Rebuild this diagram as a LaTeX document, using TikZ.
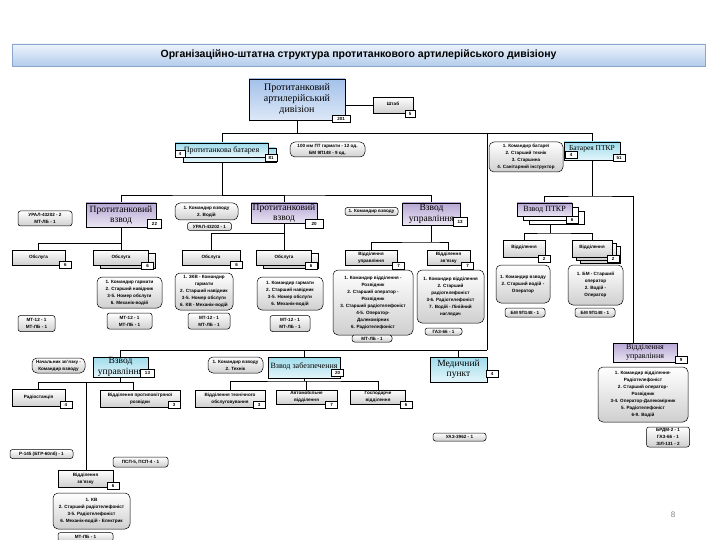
\documentclass[tikz,border=0pt]{standalone}
\usepackage{fontspec}
\setmainfont{Liberation Serif}
\setsansfont{Liberation Sans}
\usetikzlibrary{backgrounds}
\definecolor{gbot}{HTML}{CFCFCF}
\definecolor{ptop}{HTML}{B7A7D5}
\definecolor{pbot}{HTML}{EAE5F2}
\definecolor{ctop}{HTML}{9FDCEC}
\definecolor{cbot}{HTML}{E4F5FA}
\definecolor{btop}{HTML}{A3C1EA}
\definecolor{bbot}{HTML}{DDE8F7}
\definecolor{ttop}{HTML}{EEF4FC}
\definecolor{tbot}{HTML}{B3CCEB}
\definecolor{tbrd}{HTML}{8AA6C8}
\newcommand\sm{\fontsize{4.6}{7}\selectfont\sffamily\bfseries}
\newcommand\bdg{\fontsize{4.5}{5}\selectfont\sffamily\bfseries}
\newcommand\bigser{\fontsize{9.5}{10.5}\selectfont}
\newcommand\midser{\fontsize{8}{9}\selectfont}
\newcommand\smser{\fontsize{7.5}{8}\selectfont}
\newcommand\topser{\fontsize{10}{11}\selectfont}
\newcommand\ttl{\fontsize{10.5}{12}\selectfont\sffamily\bfseries}
\begin{document}
\begin{tikzpicture}[x=1pt,y=-1pt,
  wh/.style 2 args={minimum width=#1pt, minimum height=#2pt},
  box/.style={draw=black, line width=0.5pt, inner sep=0.5pt, align=center, font=\sm},
  gbox/.style={box, top color=white, bottom color=gbot},
  rbox/.style={gbox, rounded corners=5pt},
  vbox/.style={gbox, rounded corners=2.5pt},
  pbox/.style={box, top color=ptop, bottom color=pbot, font=\bigser},
  cbox/.style={box, top color=ctop, bottom color=cbot, font=\bigser},
  badge/.style={draw=black, fill=white, line width=0.5pt, font=\bdg, inner sep=0pt, minimum width=12pt, minimum height=7pt},
  wire/.style={draw=black, line width=0.8pt}]
\useasboundingbox (0,0) rectangle (720,540);

% title
\node[draw=tbrd, line width=0.5pt, top color=ttop, bottom color=tbot, wh={693}{22}, font=\ttl] (title) at (358.5,55) {Організаційно-штатна структура протитанкового артилерійського дивізіону};

% top
\node[box, top color=btop, bottom color=bbot, font=\topser, wh={96}{41}] (top) at (297,99.5) {Протитанковий\\артилерійський\\дивізіон};
\node[badge, minimum width=18pt] (b201) at (341,119) {201};
\node[gbox, wh={40}{16}] (shtab) at (393,105) {\raisebox{3pt}{Штаб}};
\node[badge, minimum width=10pt] (b5) at (410,113.5) {5};

% battery
\node[box, top color=ctop, bottom color=cbot, wh={93}{14}] (batsh) at (229.5,155) {};
\node[cbox, font=\midser, wh={93}{14}] (bat) at (221.5,150) {Протитанкова батарея};
\node[badge, minimum width=10pt] (bat4) at (180,153.5) {4};
\node[badge] (bat81) at (271,157.5) {81};
\node[rbox, wh={75}{15}] (guns) at (327.5,149.5) {100 мм ПТ гармати - 12 од.\\БМ 9П148 - 9 од.};
\node[rbox, wh={74}{30}] (bcmd) at (526,157) {1. Командир батареї\\2. Старший технік\\3. Старшина\\4. Санітарний інструктор};
\node[cbox, font=\smser, wh={56}{18}] (bptkr) at (592,151) {\raisebox{5pt}{Батарея ПТКР}};
\node[badge] (bp4) at (571,155) {4};
\node[badge] (bp51) at (619,158) {51};

% row 2
\node[vbox, wh={54}{15}] (ural2) at (45,218.5) {УРАЛ-43202 - 2\\МТ-ЛБ - 1};
\node[pbox, wh={70}{24}] (ptv1) at (121,215) {Протитанковий\\взвод};
\node[badge, minimum width=14pt, minimum height=9pt] (b22) at (154.5,223.5) {22};
\node[rbox, wh={63}{17}] (kv1) at (206.5,211.5) {1. Командир взводу\\2. Водій};
\node[vbox, wh={44}{8}] (ural1) at (209.5,226.5) {УРАЛ-43202 - 1};
\node[pbox, wh={66}{20}] (ptv2) at (284,213) {Протитанковий\\взвод};
\node[badge, minimum width=18pt, minimum height=9pt] (b20a) at (314,224) {20};
\node[vbox, wh={53}{8}] (kv2) at (371.5,211.5) {1. Командир взводу};
\node[pbox, wh={58}{22}] (vu1) at (431.5,214) {Взвод\\управління};
\node[badge, minimum width=14pt, minimum height=9pt] (b13a) at (460,222) {13};
\node[box, fill=white, wh={55}{13}] (vps2) at (556.5,217.5) {};
\node[box, fill=white, wh={55}{13}] (vps1) at (550.5,213.5) {};
\node[pbox, font=\midser, wh={55}{13}] (vptkr) at (544.5,209.5) {Взвод ПТКР};
\node[badge] (b6v) at (572,219.5) {6};

% row 3
\node[gbox, wh={53}{15}] (ob1) at (38.5,257.5) {Обслуга};
\node[badge] (ob1b) at (65.5,265) {6};
\node[gbox, wh={55}{15}] (ob2s) at (128,260.5) {};
\node[gbox, wh={55}{15}] (ob2) at (121,257.5) {Обслуга};
\node[badge] (ob2b) at (147.5,265.5) {6};
\node[gbox, wh={58}{15}] (ob3) at (211,257.5) {Обслуга};
\node[badge] (ob3b) at (236.5,265) {6};
\node[gbox, wh={55}{15}] (ob4s) at (291,260.5) {};
\node[gbox, wh={55}{15}] (ob4) at (284,257.5) {Обслуга};
\node[badge] (ob4b) at (311,265.5) {6};
\node[gbox, wh={52}{15}] (vyu1) at (371,257.5) {Відділення\\управління};
\node[badge] (vyu1b) at (398.5,265.5) {7};
\node[gbox, wh={43}{15}] (vz1) at (448.5,257.5) {Відділення\\зв'язку};
\node[badge] (vz1b) at (467.5,265.5) {7};
\node[gbox, wh={42}{17}] (vd1) at (524,248.5) {\raisebox{3pt}{Відділення}};
\node[badge] (vd1b) at (544,258.5) {2};
\node[gbox, wh={40}{17}] (vd2s2) at (600,254.5) {};
\node[gbox, wh={40}{17}] (vd2s1) at (596,251.5) {};
\node[gbox, wh={40}{17}] (vd2) at (592,248.5) {\raisebox{3pt}{Відділення}};
\node[badge] (vd2b) at (613,258.5) {2};

% crews
\node[rbox, wh={65}{31}] (crA) at (129.5,292.5) {1. Командир гармати\\2. Старший навідник\\3-5. Номер обслуги\\6. Механік-водій};
\node[vbox, wh={45}{16}] (mtA) at (129.5,321) {МТ-12 - 1\\МТ-ЛБ - 1};
\node[rbox, wh={58}{37}] (crB) at (204,291.5) {1. ЗКВ - Командир\\гармати\\2. Старший навідник\\3-5. Номер обслуги\\6. КВ - Механік-водій};
\node[vbox, wh={42}{16}] (mtB) at (209,321) {МТ-12 - 1\\МТ-ЛБ - 1};
\node[vbox, wh={37}{16}] (mtL) at (36.5,323.5) {МТ-12 - 1\\МТ-ЛБ - 1};
\node[rbox, wh={66}{33}] (crC) at (290,293.5) {1. Командир гармати\\2. Старший навідник\\3-5. Номер обслуги\\6. Механік-водій};
\node[vbox, wh={40}{16}] (mtC) at (290,323.5) {МТ-12 - 1\\МТ-ЛБ - 1};
\node[rbox, wh={80}{65}] (crD) at (373,302.5) {1. Командир відділення -\\Розвідник\\2. Старший оператор -\\Розвідник\\3. Старший радіотелефоніст\\4-5. Оператор-\\Далекомірник\\6. Радіотелефоніст};
\node[vbox, wh={40}{7}] (mtD) at (372,338.5) {МТ-ЛБ - 1};
\node[rbox, wh={67}{53}] (crE) at (450.5,296.5) {1. Командир відділення\\2. Старший\\радіотелефоніст\\3-6. Радіотелефоніст\\7. Водій - Лінійний\\наглядач};
\node[vbox, wh={37}{7}] (gaz1) at (443.5,331.5) {ГАЗ-66 - 1};
\node[rbox, wh={54}{38}] (crF) at (523,284) {1. Командир взводу\\2. Старший водій -\\Оператор};
\node[rbox, wh={55}{40}] (crG) at (595.5,285) {1. БМ - Старший\\оператор\\2. Водій -\\Оператор};
\node[vbox, wh={40}{9}] (bm1) at (525,312.5) {БМ 9П148 - 1};
\node[vbox, wh={40}{9}] (bm2) at (595,312.5) {БМ 9П148 - 1};

% lower right
\node[pbox, font=\midser, wh={64}{19}] (vur) at (645,352.5) {Відділення\\управління};
\node[badge] (vurb) at (681,359.5) {9};
\node[rbox, wh={90}{55}] (crR) at (643,394.5) {1. Командир відділення-\\Радіотелефоніст\\2. Старший оператор-\\Розвідник\\3-4. Оператор-Далекомірник\\5. Радіотелефоніст\\6-9. Водій};
\node[vbox, wh={43}{20}] (brdm) at (668,437) {БРДМ-2 - 1\\ГАЗ-66 - 1\\ЗІЛ-131 - 2};

% lower left
\node[rbox, wh={53}{15}] (nz) at (58.5,365.5) {Начальник зв'язку -\\Командир взводу};
\node[cbox, wh={55}{20}] (vu2) at (120.5,367) {Взвод\\управління};
\node[badge, minimum width=14pt, minimum height=8pt] (b13b) at (147.5,373) {13};
\node[rbox, wh={55}{16}] (kt) at (235.5,365) {1. Командир взводу\\2. Технік};
\node[cbox, font=\midser, wh={72}{21}] (zab) at (304,367.5) {\raisebox{4pt}{Взвод забезпечення}};
\node[badge] (b20b) at (337.5,373) {20};
\node[cbox, wh={57}{25}] (med) at (458.5,369.5) {Медичний\\пункт};
\node[badge] (b4m) at (492,374) {4};

\node[gbox, wh={53}{17}] (radio) at (38.5,398) {\raisebox{3pt}{Радіостанція}};
\node[badge] (radiob) at (66,404.5) {4};
\node[gbox, wh={80}{17}] (ppr) at (140,398.5) {Відділення протиповітряної\\розвідки};
\node[badge] (pprb) at (174,405) {3};
\node[gbox, wh={70}{17}] (to) at (230,398.5) {Відділення технічного\\обслуговування};
\node[badge] (tob) at (259,405) {3};
\node[gbox, wh={61}{14}] (avto) at (306.5,397) {Автомобільне\\відділення};
\node[badge] (avtob) at (331.5,405) {7};
\node[gbox, wh={55}{14}] (gosp) at (378,397) {Господарче\\відділення};
\node[badge] (gospb) at (406,404.5) {6};
\node[vbox, wh={53}{8}] (uaz) at (459.5,437) {УАЗ-3962 - 1};

\node[vbox, wh={63}{9}] (r145) at (41.5,454) {Р-145 (БТР-60пб) - 1};
\node[vbox, wh={55}{10}] (psp) at (140.5,462) {ПСП-5, ПСП-4 - 1};
\node[gbox, wh={55}{17}] (vz2) at (85.5,478.5) {Відділення\\зв'язку};
\node[badge] (vz2b) at (113,486) {6};
\node[rbox, wh={77}{36}] (crZ) at (91.5,511) {1. КВ\\2. Старший радіотелефоніст\\3-5. Радіотелефоніст\\6. Механік-водій - Електрик};
\node[vbox, wh={55}{9}] (mtZ) at (85.5,537) {МТ-ЛБ - 1};

\node[font=\fontsize{8}{9}\selectfont\sffamily, text=gray] (pg) at (673,515) {8};

% connectors
\begin{pgfonlayer}{background}
\fill[white] (0,0) rectangle (720,540);
\coordinate (jA) at (297,133);
\coordinate (jL) at (222,133);
\coordinate (jR) at (592,133);
\coordinate (jM) at (487,133);
\coordinate (j2) at (222,195);
\coordinate (j3) at (592,196);
\coordinate (j3r) at (633,196);
\coordinate (j5) at (487,350);
\coordinate (j6) at (120.5,382);
\coordinate (j6r) at (133,382);
\coordinate (j7) at (86,382);
\coordinate (j8) at (304,381);
\coordinate (j9) at (121,243);
\coordinate (j10) at (284,233);
\coordinate (j11) at (431.5,242);
\coordinate (j12) at (550,233);
\draw[wire] (top.south) -- (jA);
\draw[wire] (top.east |- shtab) -- (shtab.west);
\draw[wire] (jL) -- (jR);
\draw[wire] (jL) -- (j2);
\draw[wire] (ptv1.north) |- (j2) -| (vu1.north);
\draw[wire] (j2) -| (ptv2.north);
\draw[wire] (jR) -- (j3);
\draw[wire] (vptkr.north) |- (j3) -- (j3r);
\draw[wire] (j3r) -- (j3r |- vur.north);
\draw[wire] (jM) -- (j5);
\draw[wire] (vu2.north) |- (j5);
\draw[wire] (zab.north) -- (zab.north |- j5);
\draw[wire] (med.north) -- (med.north |- j5);
\draw[wire] (vu2.south) -- (j6);
\draw[wire] (radio.north) |- (j6r);
\draw[wire] (j6r) -- (j6r |- ppr.north);
\draw[wire] (j7) -- (j7 |- vz2.north);
\draw[wire] (zab.south) -- (j8);
\draw[wire] (to.north) |- (j8) -| (gosp.north);
\draw[wire] (avto.north) -- (avto.north |- j8);
\draw[wire] (ptv1.south) -- (ob2.north);
\draw[wire] (ob1.north) |- (j9);
\draw[wire] (ptv2.south) -- (ob4.north);
\draw[wire] (ob3.north) |- (j10);
\draw[wire] (vu1.south) -- (j11);
\draw[wire] (vyu1.north) |- (j11) -| (vz1.north);
\draw[wire] (j12) -- (j12 |- vps2.south);
\draw[wire] (vd1.north) |- (j12) -| (vd2.north);
\end{pgfonlayer}
\end{tikzpicture}
\end{document}
